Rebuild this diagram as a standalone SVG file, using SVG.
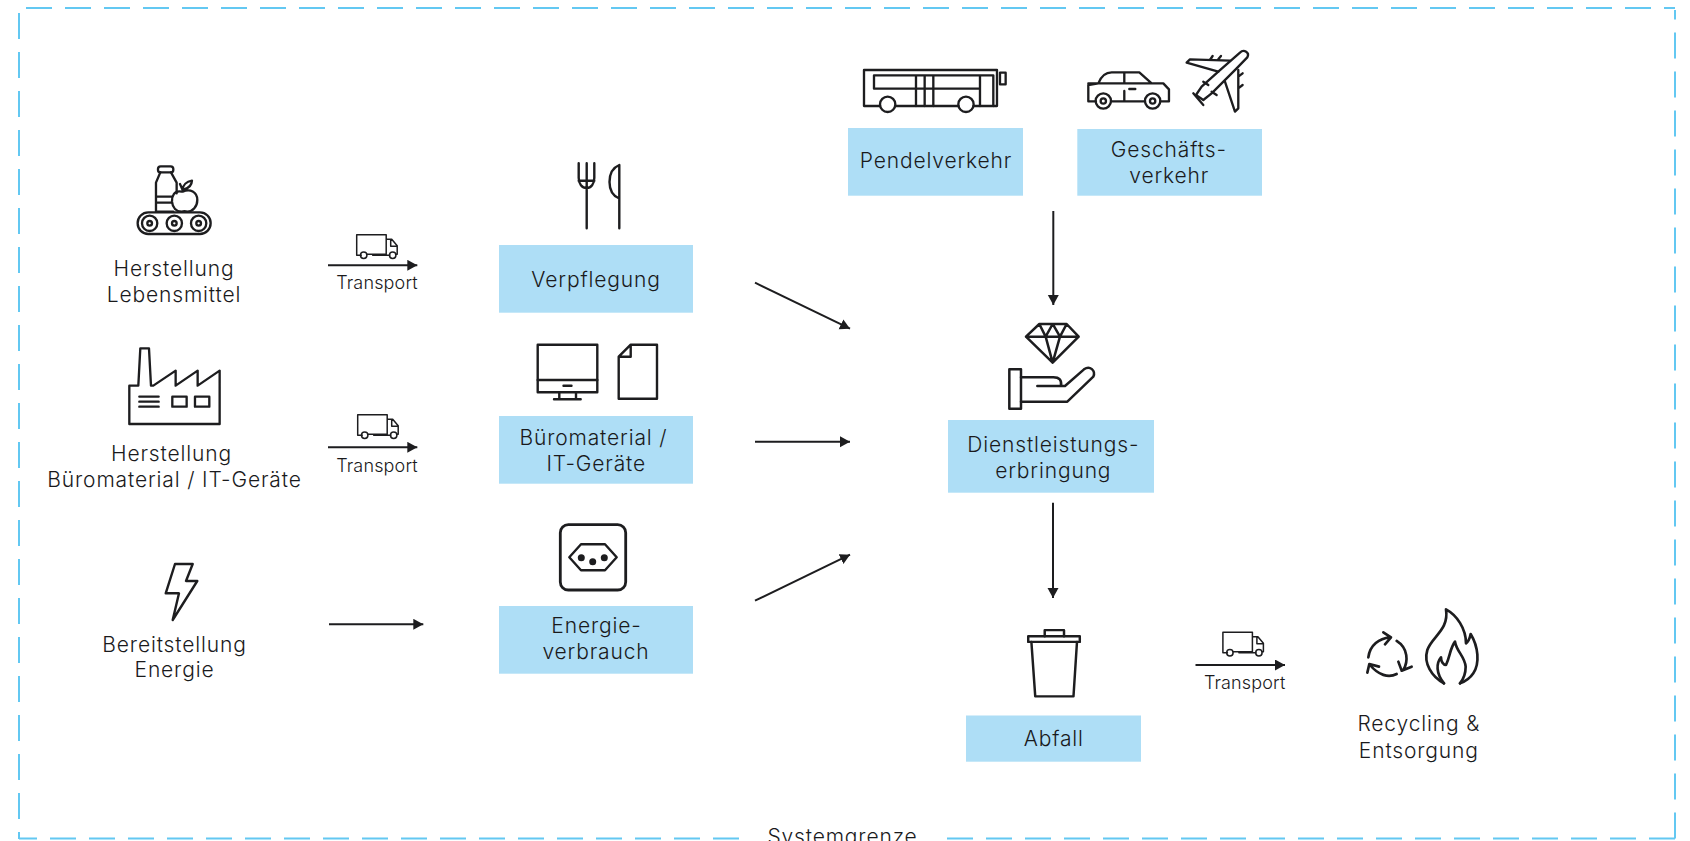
<svg xmlns="http://www.w3.org/2000/svg" width="1690" height="841" viewBox="0 0 1690 841">
<style>
text{font-family:"Inter","Liberation Sans",sans-serif;font-size:21px;letter-spacing:.85px;font-weight:350;fill:#1a1a1c;text-anchor:middle}
.t{font-size:18px;letter-spacing:.15px}
.box{fill:#aedef6}
.i{fill:none;stroke:#1d1d1f;stroke-width:2.400;stroke-linejoin:round;stroke-linecap:round}
.bd{fill:none;stroke:#63c8f2;stroke-width:2;stroke-dasharray:26 13}
.c{fill:none;stroke:#1d1d1f;stroke-width:2;marker-end:url(#a)}
.d{fill:#1d1d1f;stroke:none}
</style>
<defs>
<marker id="a" markerUnits="userSpaceOnUse" markerWidth="12" markerHeight="12" refX="10" refY="5.500" orient="auto"><path d="M0,0L10,5.500L0,11z" fill="#1d1d1f"/></marker>
<g id="truck"><path class="i" style="stroke-width:1.500" d="M4.500,20.500H0V0H29.500V19.500H10M17,19.500H29.500M29.500,4.500H35L40.500,11V19.500H39M16,20.500H30M29.500,20.500H33M34,4.500V11.500H40.500"/><circle class="i" style="stroke-width:1.500" cx="7" cy="20.500" r="3.200"/><circle class="i" style="stroke-width:1.500" cx="36" cy="20.500" r="3.200"/></g>
</defs>
<rect width="1690" height="841" fill="#fff"/>
<g id="systemgrenze">
<path class="bd" d="M26,8H1675"/><path class="bd" d="M19,13V839"/><path class="bd" d="M1675,838.500V10"/><path class="bd" d="M1675,838.500H19"/>
<rect x="741" y="828" width="206" height="13" fill="#fff"/>
<text x="842.500" y="843.500">Systemgrenze</text>
</g>
<g id="connectors">
<path class="c" d="M328,265.300H417.300"/><path class="c" d="M328,447.300H417.300"/><path class="c" d="M329,624.300H423.300"/>
<path class="c" d="M755,282.700L850,328.700"/><path class="c" d="M755,441.700H850"/><path class="c" d="M755,600.700L850,554.700"/>
<path class="c" d="M1053.300,211V305"/><path class="c" d="M1053,502.700V598"/><path class="c" d="M1195.500,665H1285"/>
</g>
<g id="n-lebensmittel">
<g class="i" transform="translate(0,140) scale(.3333)" style="stroke-width:7">
<rect x="474" y="79" width="46" height="18" rx="8"/>
<path d="M481,97L468,128V215H520M513,97L530,128V160M468,170H515M468,188H515"/>
<path d="M545,155C522,150 515,170 516,185C518,205 530,215 545,215C552,213 555,213 562,215C578,215 592,200 592,180C592,155 570,145 548,155M548,150C548,135 560,125 576,122C575,138 565,145 552,148M540,132L548,150"/>
<rect x="413" y="217" width="219" height="65" rx="32"/>
<circle cx="449" cy="250" r="23"/><circle cx="449" cy="250" r="7"/><circle cx="523" cy="250" r="23"/><circle cx="523" cy="250" r="7"/><circle cx="596" cy="250" r="23"/><circle cx="596" cy="250" r="7"/>
</g>
<text x="174" y="276">Herstellung</text><text x="174" y="301.700">Lebensmittel</text>
</g>
<g id="n-buero-herstellung">
<g class="i" transform="translate(0,140) scale(.3333)" style="stroke-width:7">
<path d="M388,737H415L421,625H447L453,737H460L527,692V737L593,692V737L659,692V852H388Z"/>
<rect x="517" y="770" width="43" height="30"/><rect x="585" y="770" width="43" height="30"/><path d="M418,770H476M418,785H476M418,800H476"/>
</g>
<text x="171.500" y="460.700">Herstellung</text><text x="174.500" y="486.700">Büromaterial / IT-Geräte</text>
</g>
<g id="n-energie">
<path class="i" d="M175,564H192.700L186,581H197.300L172.700,620L179,593.300H165.700Z"/>
<text x="174.500" y="651.700">Bereitstellung</text><text x="174.500" y="677.300">Energie</text>
</g>
<g id="transport-1"><use href="#truck" x="356.700" y="234.700"/><text class="t" x="377" y="288.700">Transport</text></g>
<g id="transport-2"><use href="#truck" x="357.700" y="414.700"/><text class="t" x="377" y="471.700">Transport</text></g>
<g id="n-verpflegung">
<rect class="box" x="499" y="245" width="194" height="67.700"/>
<path class="i" d="M578.700,163.300V178C578.700,184 582,188 586.700,188C591,188 594.300,184 594.300,178V163.300M586.700,163.300V228.300M578.700,180.700H594.300"/>
<path class="i" d="M619.300,228.300V165C612,168 609.500,175 609.500,182C609.500,190 613,196 619.300,198.500"/>
<text x="596" y="286.700">Verpflegung</text>
</g>
<g id="n-bueromaterial">
<rect class="box" x="499" y="416" width="194" height="67.700"/>
<g class="i"><rect x="537.700" y="344.700" width="59.600" height="47.600"/><path d="M537.700,380H597.300M563.500,385.700H571.500M559.300,392.300V399.300M576,392.300V399.300M554,399.300H580.700"/><path d="M630.700,344.700H657V398.700H618.700V356.700ZM630.700,344.700V356.700H618.700"/></g>
<text x="593.500" y="445.300">Büromaterial /</text><text x="596.300" y="471.300">IT-Geräte</text>
</g>
<g id="n-energieverbrauch">
<rect class="box" x="499" y="606" width="194" height="67.700"/>
<rect class="i" style="stroke-width:2.800" x="560.300" y="524.700" width="65.400" height="65.300" rx="8"/>
<path class="i" d="M569.300,557.300L581,544.300H605L616.700,557.300L605,570.300H581Z"/>
<circle class="d" cx="581.300" cy="557.700" r="3.500"/><circle class="d" cx="604.300" cy="557.700" r="3.500"/><circle class="d" cx="592.700" cy="561.700" r="3.500"/>
<text x="596.500" y="632.700">Energie-</text><text x="596" y="659">verbrauch</text>
</g>
<g id="n-pendelverkehr">
<rect class="box" x="848" y="128" width="175" height="67.700"/>
<g class="i" transform="translate(840,30) scale(.3333)" style="stroke-width:7">
<path d="M120,228H72V120H471V228H401M166,228H355"/>
<circle cx="143" cy="223" r="23"/><circle cx="378" cy="223" r="23"/>
<path d="M420,176H102V136H460V228M228,136V228M254,136V228M280,136V228M420,136V228"/><rect x="480" y="128" width="17" height="35"/>
</g>
<text x="936" y="168">Pendelverkehr</text>
</g>
<g id="n-geschaeft">
<rect class="box" x="1077.300" y="129" width="184.700" height="66.700"/>
<g class="i" transform="translate(840,30) scale(.3333)" style="stroke-width:7">
<path d="M768,214H745V165L775,160C785,135 800,127 815,127H898L935,160H970L987,178V214H962M915,214H815M745,160H935M853,127V160M853,183V212M868,177H886"/>
<circle cx="790" cy="213" r="23"/><circle cx="790" cy="213" r="8"/><circle cx="938" cy="213" r="23"/><circle cx="938" cy="213" r="8"/>
<path d="M1200,68C1212,56 1230,68 1222,82L1190,115L1115,190L1090,210L1068,195L1085,170L1135,125Z"/>
<path d="M1135,125L1040,98L1050,88L1170,92M1155,155L1185,245L1195,235V120M1060,190L1090,225M1110,90L1118,78M1135,88L1143,78M1195,140L1208,130M1195,175L1208,165M1090,155L1105,165M1115,185L1130,195"/>
</g>
<text x="1168.800" y="157.300">Geschäfts-</text><text x="1169.300" y="183.300">verkehr</text>
</g>
<g id="n-dienstleistung">
<rect class="box" x="948" y="420" width="206" height="72.700"/>
<g class="i" transform="translate(930,300) scale(.3333)" style="stroke-width:7.500">
<path d="M288,110L328,72H410L446,110L368,188ZM288,110H446M328,72L347,110L368,72L390,110L410,72M347,110L368,188L390,110"/>
<rect x="238" y="208" width="35" height="118"/>
<path d="M273,232H370C388,232 396,240 393,258M322,258H405L462,208C480,195 498,212 490,230L412,305H273"/>
</g>
<text x="1053.300" y="451.700">Dienstleistungs-</text><text x="1053.300" y="477.700">erbringung</text>
</g>
<g id="n-abfall">
<rect class="box" x="966" y="715.500" width="175" height="46.200"/>
<g class="i" transform="translate(950,580) scale(.3508,.3346)" style="stroke-width:7">
<rect x="223" y="168" width="147" height="17"/><path d="M270,168V150H325V168M232,185L243,348H352L362,185"/>
</g>
<text x="1053.800" y="746">Abfall</text>
</g>
<g id="transport-3"><use href="#truck" x="1222.900" y="632.200"/><text class="t" x="1244.700" y="689.400">Transport</text></g>
<g id="n-entsorgung">
<g class="i" transform="translate(1340,600) scale(.3333)" style="stroke-width:8">
<path d="M85,172C90,135 118,115 150,112M130,97L153,112L135,133M170,123C205,145 205,185 190,210M215,200L185,212L175,185M170,222C145,235 115,225 90,195M82,218L88,192L117,200"/>
<path d="M312,250C275,230 250,190 262,150C275,110 328,90 318,28C350,45 378,85 378,130C385,125 390,112 392,102C415,140 420,190 400,220C390,235 375,245 360,250"/>
<path d="M312,250C288,220 288,190 303,172C303,185 310,195 318,195C330,170 330,145 345,125C350,155 375,170 377,200C377,225 368,240 360,250"/>
</g>
<text x="1418.800" y="731.200">Recycling &amp;</text><text x="1418.800" y="758">Entsorgung</text>
</g>
</svg>
